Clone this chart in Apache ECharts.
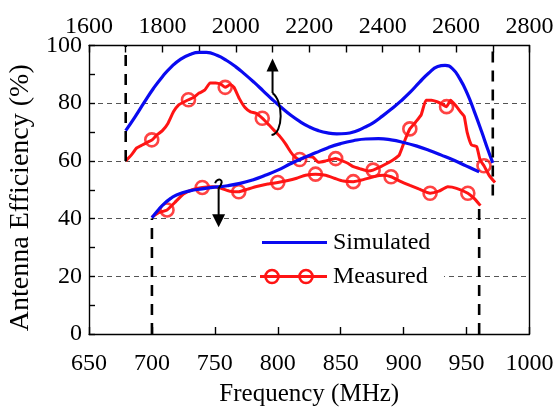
<!DOCTYPE html>
<html>
<head>
<meta charset="utf-8">
<script src="https://cdn.jsdelivr.net/npm/echarts@6/dist/echarts.min.js"></script>
<style>
html,body{margin:0;padding:0;background:#fff;}
#chart{width:558px;height:407px;}
</style>
</head>
<body>
<div id="chart"></div>
<script>
// ---- Data ----
// Upper band (top axis, 1700-2700 MHz)
const upperSimFreq = [1700,1725,1750,1775,1800,1825,1850,1875,1900,1920,1950,1975,2000,2025,2050,2075,2100,2125,2150,2175,2200,2225,2250,2275,2300,2325,2350,2375,2400,2425,2450,2475,2500,2525,2550,2570,2590,2610,2630,2650,2670,2685,2700];
const upperSimVal  = [70.5,75.2,80.2,85,89.2,92.7,95.3,96.9,97.6,97.6,96.5,94.8,92.6,90,87.2,84.2,81.2,78.4,75.8,73.6,71.8,70.5,69.7,69.4,69.5,70.2,71.6,73.3,75.6,78.1,80.8,83.8,87.2,90.4,92.7,93.1,92,88.5,83.5,77,70,64.5,59.3];

const upperMeasFreq = [1700,1715,1730,1745,1760,1772,1785,1800,1815,1830,1845,1860,1871,1885,1900,1915,1930,1945,1960,1971,1985,1995,2010,2025,2040,2055,2072,2090,2105,2120,2135,2150,2160,2174,2195,2210,2225,2245,2260,2272,2290,2305,2320,2340,2360,2374,2395,2410,2430,2445,2460,2474,2490,2505,2518,2533,2548,2560,2574,2585,2600,2612,2622,2630,2642,2656,2665,2676,2690,2706];
const upperMeasVal  = [60,62,64.5,65.5,66.5,67.3,69,70.5,73,77,79.5,80.5,81.2,82,83.5,84.5,87,87,86.5,85.5,86.5,85.5,81.5,78.5,77,76.5,74.8,72.5,70.5,68.5,66,63,61.5,60.5,61.5,61.3,59.5,60,60.5,60.8,60,59.2,58,57.2,56.5,56.8,58,59,60.5,62,67,71.1,73.5,76,81,81,80.5,79.8,78.8,81,79,77,75.5,70,65.5,65,60.5,58.3,55,52.5];
const upperMarkFreq = [1771,1871,1971,2072,2174,2272,2374,2474,2574,2676];
const upperMarkVal  = [67.3,81.2,85.5,74.8,60.5,60.8,56.8,71.1,78.8,58.3];

// Lower band (bottom axis, 700-960 MHz)
const lowerSimFreq = [700,705,710,715,720,730,740,750,760,770,780,790,800,810,820,830,840,850,860,870,880,890,900,910,920,930,940,950,955,960];
const lowerSimVal  = [40.3,43,45.3,47,48.3,49.6,50.3,50.9,51.4,52.2,53.4,55,56.8,59,61,62.8,64.6,66,67,67.6,67.7,67.3,66.4,65.2,63.7,62,60.2,58.2,57.2,56.2];

const lowerMeasFreq = [700,705,712,718,725,732,740,748,755,762,769,776,784,792,800,808,815,822,830,838,845,852,860,868,876,884,890,897,905,912,921,928,935,942,951,956,961];
const lowerMeasVal  = [40.5,42,43,45.5,48.5,50,50.8,51,50.5,49.5,49.3,50.2,51.2,52,52.5,53.2,54,55,55.4,55,54,53,52.8,53.5,54.5,55,54.5,53,51.5,50.3,48.8,49.5,51,50.5,48.8,47,44.5];
const lowerMarkFreq = [712,740,769,800,830,860,890,921,951];
const lowerMarkVal  = [43,50.8,49.3,52.5,55.4,52.8,54.5,48.8,48.8];

// Band edges (vertical dashed lines): [freq, from, to]
const upperEdges = [[1700,60,100],[2700,48,100]];
const lowerEdges = [[700,0,40],[960,0,45]];

// Axis ticks
const bottomTicks = {min:650,max:1000,interval:50};
const topTicks = {min:1600,max:2800,interval:200};
const yTicks = {min:0,max:100,interval:20};

// Arrow annotations
const upArrow = {freq:2100, from:83.5, to:95.5};
const downArrow = {freq:753, from:50.5, to:37};

const seriesNames = ['Simulated','Measured'];

// ---- Chart ----
const FONT = 'Liberation Serif';
const BLUE = '#0a0af0';
const RED = '#ff1414';
const zip = (a,b) => a.map((v,i)=>[v,b[i]]);
const plain = v => String(v);
const chart = echarts.init(document.getElementById('chart'), null, {renderer:'canvas'});

const edgeSeries = [];
upperEdges.forEach(e => edgeSeries.push({
  type:'line', xAxisIndex:1, yAxisIndex:0, data:[[e[0],e[1]],[e[0],e[2]]], showSymbol:false, silent:true,
  lineStyle:{color:'#000',width:2.6,type:[11,8]}, z:5
}));
lowerEdges.forEach(e => edgeSeries.push({
  type:'line', xAxisIndex:0, yAxisIndex:0, data:[[e[0],e[1]],[e[0],e[2]]], showSymbol:false, silent:true,
  lineStyle:{color:'#000',width:2.6,type:[11,8]}, z:5
}));

const axisLineStyle = {color:'#000', width:1.4};
const labelStyle = {color:'#000', fontFamily:FONT, fontSize:24, formatter:plain};

chart.setOption({
  animation:false,
  backgroundColor:'#fff',
  grid:{left:89, right:28.5, top:45.5, bottom:73, containLabel:false, outerBoundsMode:'none'},
  xAxis:[
    {type:'value', position:'bottom', min:bottomTicks.min, max:bottomTicks.max, interval:bottomTicks.interval,
     axisLine:{show:true, onZero:false, lineStyle:axisLineStyle},
     axisTick:{show:true, inside:true, length:7, lineStyle:axisLineStyle},
     axisLabel:Object.assign({margin:18}, labelStyle),
     splitLine:{show:false},
     name:'Frequency (MHz)', nameLocation:'middle', nameGap:48,
     nameTextStyle:{color:'#000', fontFamily:FONT, fontSize:25}},
    {type:'value', position:'top', min:topTicks.min, max:topTicks.max, interval:topTicks.interval,
     axisLine:{show:true, onZero:false, lineStyle:axisLineStyle},
     axisTick:{show:true, inside:true, length:7, lineStyle:axisLineStyle},
     minorTick:{show:true, splitNumber:2, length:7, lineStyle:axisLineStyle},
     axisLabel:Object.assign({margin:7}, labelStyle),
     splitLine:{show:false}}
  ],
  yAxis:[
    {type:'value', position:'left', min:yTicks.min, max:yTicks.max, interval:yTicks.interval,
     axisLine:{show:true, onZero:false, lineStyle:axisLineStyle},
     axisTick:{show:true, inside:true, length:6, lineStyle:axisLineStyle},
     minorTick:{show:true, splitNumber:2, length:6, lineStyle:axisLineStyle},
     axisLabel:Object.assign({margin:7}, labelStyle),
     splitLine:{show:true, lineStyle:{color:'#555', width:1, type:[5,4]}},
     name:'Antenna Efficiency (%)', nameLocation:'middle', nameGap:48, nameRotate:90,
     nameTextStyle:{color:'#000', fontFamily:FONT, fontSize:28, padding:[0,16,0,0]}},
    {type:'value', position:'right', min:yTicks.min, max:yTicks.max,
     axisLine:{show:true, onZero:false, lineStyle:axisLineStyle},
     axisTick:{show:false}, axisLabel:{show:false}, splitLine:{show:false}}
  ],
  series:[
    {name:seriesNames[1], type:'line', xAxisIndex:1, data:zip(upperMeasFreq,upperMeasVal), showSymbol:false, smooth:0.15,
     lineStyle:{color:RED,width:3}, z:3},
    {name:seriesNames[1]+' markers', type:'scatter', xAxisIndex:1, data:zip(upperMarkFreq,upperMarkVal), symbol:'circle', symbolSize:13,
     itemStyle:{color:'rgba(0,0,0,0)', borderColor:RED, borderWidth:2.6}, z:3},
    {name:seriesNames[1], type:'line', xAxisIndex:0, data:zip(lowerMeasFreq,lowerMeasVal), showSymbol:false, smooth:0.15,
     lineStyle:{color:RED,width:3}, z:3},
    {name:seriesNames[1]+' markers', type:'scatter', xAxisIndex:0, data:zip(lowerMarkFreq,lowerMarkVal), symbol:'circle', symbolSize:13,
     itemStyle:{color:'rgba(0,0,0,0)', borderColor:RED, borderWidth:2.6}, z:3},
    {name:seriesNames[0], type:'line', xAxisIndex:1, data:zip(upperSimFreq,upperSimVal), showSymbol:false, smooth:true,
     lineStyle:{color:BLUE,width:3.2}, z:4},
    {name:seriesNames[0], type:'line', xAxisIndex:0, data:zip(lowerSimFreq,lowerSimVal), showSymbol:false, smooth:true,
     lineStyle:{color:BLUE,width:3.2}, z:4}
  ].concat(edgeSeries)
});

// ---- Annotations (arrows) and legend, positioned through the axes ----
function px(xAxisIndex, x, y){ return chart.convertToPixel({xAxisIndex:xAxisIndex, yAxisIndex:0}, [x,y]); }
const g = [];
// up arrow (upper band)
{
  const a = px(1, upArrow.freq, upArrow.from), t = px(1, upArrow.freq, upArrow.to);
  const headLen = 13, headW = 6;
  g.push({type:'line', shape:{x1:a[0],y1:a[1],x2:t[0],y2:t[1]+headLen-1}, style:{stroke:'#000',lineWidth:2}, z:50});
  g.push({type:'polygon', shape:{points:[[t[0],t[1]],[t[0]-headW,t[1]+headLen],[t[0]+headW,t[1]+headLen]]}, style:{fill:'#000'}, z:50});
  g.push({type:'bezierCurve', shape:{x1:a[0],y1:a[1],cpx1:a[0]+11,cpy1:a[1]+8,cpx2:a[0]+11,cpy2:a[1]+40,x2:a[0]-1,y2:a[1]+42}, style:{stroke:'#000',lineWidth:2,fill:null}, z:50});
}
// down arrow (lower band)
{
  const a = px(0, downArrow.freq, downArrow.from), t = px(0, downArrow.freq, downArrow.to);
  const headLen = 13, headW = 6.5;
  g.push({type:'line', shape:{x1:a[0],y1:a[1],x2:t[0],y2:t[1]-headLen+1}, style:{stroke:'#000',lineWidth:2}, z:50});
  g.push({type:'polygon', shape:{points:[[t[0],t[1]],[t[0]-headW,t[1]-headLen],[t[0]+headW,t[1]-headLen]]}, style:{fill:'#000'}, z:50});
  g.push({type:'bezierCurve', shape:{x1:a[0]-3.5,y1:a[1]-5,cpx1:a[0]-2,cpy1:a[1]-11,cpx2:a[0]+8,cpy2:a[1]-10,x2:a[0],y2:a[1]}, style:{stroke:'#000',lineWidth:2,fill:null}, z:50});
}
// legend
const L = {x:258, y:228, w:186, h:64};
g.push({type:'rect', shape:{x:L.x, y:L.y, width:L.w, height:L.h}, style:{fill:'#fff'}, z:40});
g.push({type:'line', shape:{x1:262,y1:242.5,x2:327,y2:242.5}, style:{stroke:BLUE,lineWidth:3.2}, z:41});
g.push({type:'text', x:333, y:242.5, style:{text:seriesNames[0], fill:'#000', font:'24px "Liberation Serif"', textVerticalAlign:'middle', verticalAlign:'middle'}, z:41});
g.push({type:'line', shape:{x1:260,y1:276.5,x2:327,y2:276.5}, style:{stroke:RED,lineWidth:3}, z:41});
[272,306].forEach(cx => g.push({type:'circle', shape:{cx:cx, cy:276.5, r:6.5}, style:{fill:null, stroke:RED, lineWidth:2.6}, z:42}));
g.push({type:'text', x:333, y:276.5, style:{text:seriesNames[1], fill:'#000', font:'24px "Liberation Serif"', textVerticalAlign:'middle', verticalAlign:'middle'}, z:41});
chart.setOption({graphic:{elements:g}});
</script>
</body>
</html>
